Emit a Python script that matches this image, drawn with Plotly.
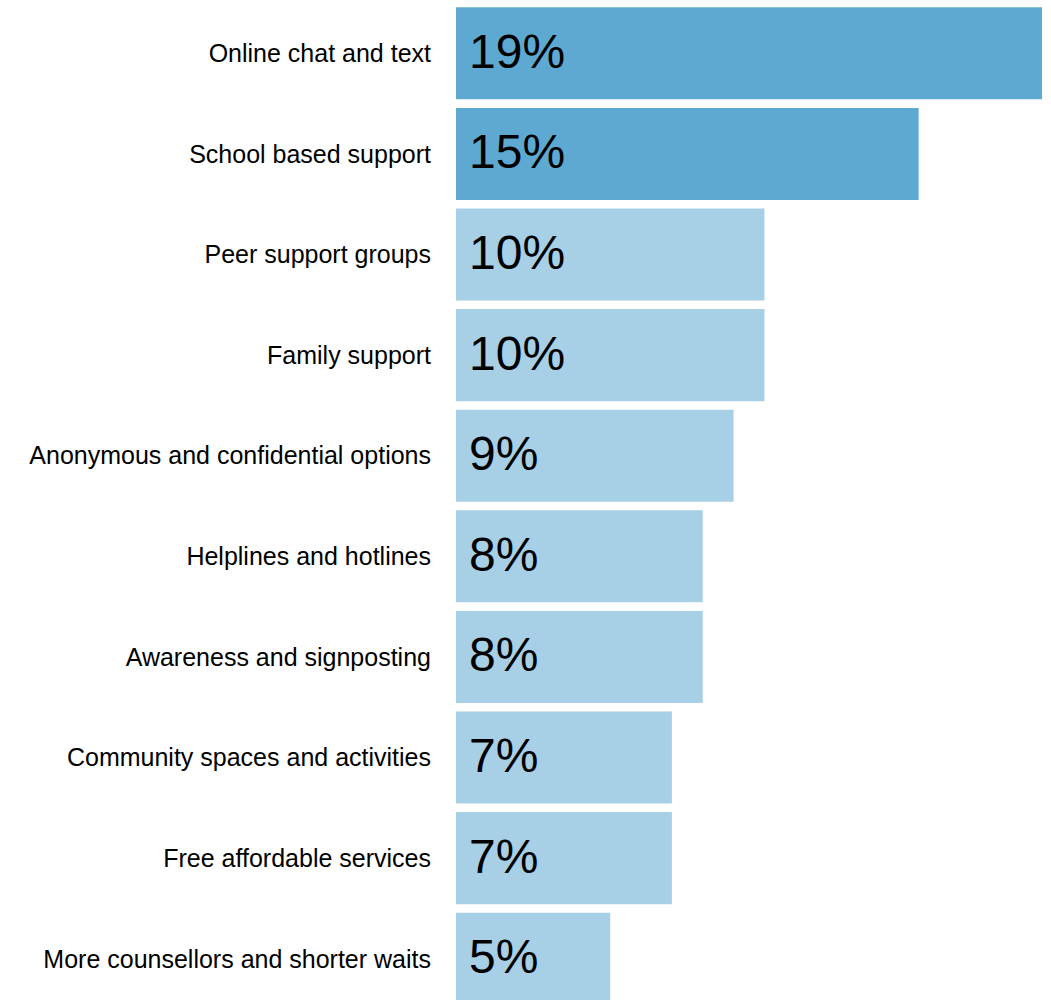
import plotly.graph_objects as go

categories = [
    "Online chat and text",
    "School based support",
    "Peer support groups",
    "Family support",
    "Anonymous and confidential options",
    "Helplines and hotlines",
    "Awareness and signposting",
    "Community spaces and activities",
    "Free affordable services",
    "More counsellors and shorter waits",
]
values = [19, 15, 10, 10, 9, 8, 8, 7, 7, 5]
highlight = [True, True, False, False, False, False, False, False, False, False]

DARK = "#5ea9d1"
LIGHT = "#a7cfe6"
colors = [DARK if h else LIGHT for h in highlight]

fig = go.Figure(
    go.Bar(
        x=values,
        y=categories,
        orientation="h",
        marker=dict(color=colors, line=dict(width=0)),
        hoverinfo="skip",
    )
)

for cat, v in zip(categories, values):
    fig.add_annotation(
        x=0, y=cat, xref="x", yref="y",
        text=f"{v}%", showarrow=False,
        xanchor="left", yanchor="middle", xshift=11, yshift=2,
        font=dict(family="Liberation Sans, Arial, sans-serif", size=48, color="#000000"),
    )

fig.update_layout(
    width=1051, height=1000,
    margin=dict(l=456, r=9, t=3, b=0),
    paper_bgcolor="white", plot_bgcolor="white",
    bargap=0.085,
    showlegend=False,
    font=dict(family="Liberation Sans, Arial, sans-serif", color="#000000"),
)
fig.update_xaxes(range=[0, 19], visible=False, fixedrange=True)
fig.update_yaxes(
    range=[9.41, -0.5],
    showgrid=False, zeroline=False, showline=False,
    ticks="", ticklabelstandoff=24,
    tickfont=dict(size=25, color="#000000"),
    fixedrange=True,
)

fig.write_html("out.html", config={"displayModeBar": False})
